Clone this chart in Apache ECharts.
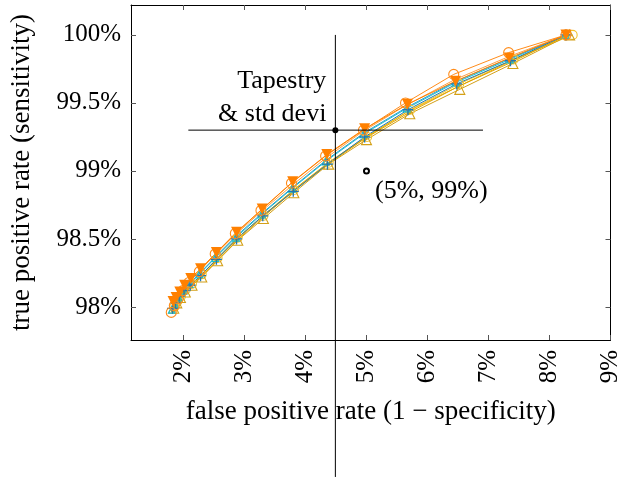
<!DOCTYPE html>
<html><head><meta charset="utf-8">
<script src="https://cdn.jsdelivr.net/npm/echarts@6/dist/echarts.min.js"></script>
<style>html,body{margin:0;padding:0;background:#fff}#c{width:623px;height:477px}</style>
</head><body><div id="c"></div>
<script>
// ---- data (percent) ----
const xTicks = [2, 3, 4, 5, 6, 7, 8, 9];
const yTicks = [98, 98.5, 99, 99.5, 100];

const s1x = [1.80, 1.85, 1.91, 1.99, 2.09, 2.26, 2.52, 2.85, 3.27, 3.77, 4.33, 4.95, 5.64, 6.43, 7.33, 8.27];
const s1y = [97.96, 98.01, 98.06, 98.12, 98.18, 98.26, 98.39, 98.54, 98.71, 98.91, 99.11, 99.30, 99.50, 99.71, 99.87, 100.0];
const s2x = [1.83, 1.88, 1.94, 2.02, 2.12, 2.28, 2.54, 2.87, 3.29, 3.79, 4.35, 4.97, 5.67, 6.46, 7.34, 8.27];
const s2y = [98.04, 98.07, 98.11, 98.16, 98.21, 98.28, 98.40, 98.55, 98.72, 98.92, 99.12, 99.31, 99.49, 99.66, 99.83, 100.0];
const s3x = [1.84, 1.89, 1.95, 2.03, 2.14, 2.30, 2.56, 2.89, 3.31, 3.81, 4.38, 5.00, 5.71, 6.53, 7.40, 8.33];
const s3y = [97.99, 98.03, 98.07, 98.11, 98.16, 98.22, 98.34, 98.49, 98.65, 98.84, 99.05, 99.23, 99.42, 99.60, 99.79, 100.0];
const s4x = [1.81, 1.86, 1.92, 2.00, 2.10, 2.26, 2.52, 2.86, 3.28, 3.78, 4.33, 4.95, 5.66, 6.46, 7.35, 8.26];
const s4y = [97.98, 98.02, 98.07, 98.12, 98.17, 98.24, 98.36, 98.51, 98.68, 98.87, 99.07, 99.27, 99.46, 99.65, 99.82, 100.0];
const s5x = [1.82, 1.87, 1.93, 2.01, 2.11, 2.28, 2.54, 2.87, 3.30, 3.80, 4.36, 4.97, 5.68, 6.48, 7.36, 8.27];
const s5y = [97.99, 98.03, 98.08, 98.12, 98.16, 98.23, 98.35, 98.50, 98.67, 98.85, 99.05, 99.25, 99.45, 99.64, 99.81, 100.0];
const s6x = [1.83, 1.88, 1.94, 2.02, 2.12, 2.29, 2.55, 2.88, 3.30, 3.80, 4.37, 4.98, 5.70, 6.50, 7.38, 8.30];
const s6y = [97.97, 98.01, 98.05, 98.10, 98.15, 98.22, 98.34, 98.49, 98.66, 98.85, 99.05, 99.24, 99.43, 99.62, 99.80, 100.0];
const s7x = [1.85, 1.90, 1.96, 2.04, 2.14, 2.30, 2.56, 2.89, 3.31, 3.81, 4.38, 5.01, 5.72, 6.52, 7.41, 8.38];
const s7y = [98.00, 98.04, 98.08, 98.13, 98.17, 98.24, 98.36, 98.51, 98.67, 98.86, 99.06, 99.25, 99.45, 99.64, 99.82, 100.0];
const s8x = [1.82, 1.87, 1.92, 2.00, 2.10, 2.27, 2.53, 2.86, 3.29, 3.79, 4.34, 4.96, 5.67, 6.47, 7.36, 8.28];
const s8y = [97.98, 98.03, 98.08, 98.13, 98.17, 98.25, 98.37, 98.52, 98.69, 98.88, 99.08, 99.28, 99.47, 99.66, 99.83, 100.0];
const s9x = [1.81, 1.86, 1.92, 2.00, 2.10, 2.26, 2.52, 2.85, 3.27, 3.77, 4.32, 4.94, 5.64, 6.44, 7.33, 8.27];
const s9y = [98.00, 98.05, 98.10, 98.15, 98.20, 98.27, 98.38, 98.53, 98.70, 98.89, 99.09, 99.29, 99.48, 99.67, 99.84, 100.0];
const s10x = [1.84, 1.89, 1.95, 2.03, 2.13, 2.29, 2.55, 2.88, 3.30, 3.80, 4.37, 4.99, 5.69, 6.50, 7.38, 8.31];
const s10y = [97.98, 98.02, 98.06, 98.11, 98.15, 98.23, 98.35, 98.50, 98.67, 98.86, 99.06, 99.25, 99.44, 99.62, 99.81, 100.0];

// annotation
const crossPoint = [4.49, 99.30];
const hLineX = [2.08, 6.91];
const vLineY = [96.75, 100.0];
const refPoint = [5, 99];
const crossText = 'Tapestry\n& std devi';
const refText = '(5%, 99%)';

const xMin = 1.14, xMax = 9.0, yMin = 97.757, yMax = 100.22;

// ---- chart ----
const zip = (a, b) => a.map((v, i) => [v, b[i]]);
const FONT = '"Liberation Serif", "DejaVu Serif", serif';
const triDown = 'path://M0,0 L10,0 L5,9 Z';
const triUp = 'path://M5,0 L10,9 L0,9 Z';
const plusP = 'path://M4.4,0 H5.6 V4.4 H10 V5.6 H5.6 V10 H4.4 V5.6 H0 V4.4 H4.4 Z';

function ser(x, y, color, symbol, size, filled) {
  return {
    type: 'line', data: zip(x, y), symbol: symbol, symbolSize: size,
    showSymbol: true, animation: false, z: 3,
    lineStyle: { color: color, width: 1 },
    itemStyle: filled ? { color: color, borderWidth: 0 }
                      : { color: 'rgba(0,0,0,0)', borderColor: color, borderWidth: 1.1 },
  };
}

const series = [
  ser(s7x, s7y, '#f2c230', 'circle', 9, false),
  ser(s3x, s3y, '#d4a017', triUp, 10, false),
  ser(s10x, s10y, '#f0b000', 'none', 1, true),
  ser(s6x, s6y, '#e0a400', 'circle', 4, true),
  ser(s4x, s4y, '#17bfd3', triUp, 7, false),
  ser(s8x, s8y, '#2a9fc9', 'circle', 3, true),
  ser(s5x, s5y, '#1f77b4', plusP, 11, true),
  ser(s9x, s9y, '#ffa040', 'none', 1, true),
  ser(s1x, s1y, '#ff8c1a', 'circle', 10, false),
  ser(s2x, s2y, '#ff8000', triDown, 11, true),
];

series.push({
  type: 'line', data: [[hLineX[0], crossPoint[1]], [hLineX[1], crossPoint[1]]],
  symbol: 'none', clip: false, animation: false, z: 5,
  lineStyle: { color: '#000', width: 1 }
});
series.push({
  type: 'line', data: [[crossPoint[0], vLineY[0]], [crossPoint[0], vLineY[1]]],
  symbol: 'none', clip: false, animation: false, z: 5,
  lineStyle: { color: '#000', width: 1 }
});
series.push({
  type: 'scatter', data: [crossPoint], symbol: 'circle', symbolSize: 6, animation: false, z: 6,
  itemStyle: { color: '#000', opacity: 1 },
  label: { show: true, formatter: crossText, position: [-6, 4], align: 'right', verticalAlign: 'bottom',
           fontFamily: FONT, fontSize: 26, lineHeight: 33, color: '#000', opacity: 1, textBorderWidth: 0 }
});
series.push({
  type: 'scatter', data: [refPoint], symbol: 'emptyCircle', symbolSize: 5, animation: false, z: 6,
  itemStyle: { color: '#000', borderColor: '#000', borderWidth: 0.8, opacity: 1 },
  label: { show: true, formatter: refText, position: [12, 11], align: 'left', verticalAlign: 'top',
           fontFamily: FONT, fontSize: 26, color: '#000', opacity: 1, textBorderWidth: 0 }
});

const axisLine = { show: true, onZero: false, lineStyle: { color: '#000', width: 1 } };
const tickIn = (vals) => ({ show: true, inside: true, length: 5, customValues: vals, lineStyle: { color: '#555', width: 1 } });

const option = {
  backgroundColor: '#fff',
  animation: false,
  grid: { left: 130, right: 10, top: 5, bottom: 137 },
  xAxis: [{
    type: 'value', min: xMin, max: xMax, position: 'bottom',
    axisLine: axisLine, axisTick: tickIn(xTicks), splitLine: { show: false },
    axisLabel: { customValues: xTicks, rotate: 90, margin: 10, formatter: v => v + '%',
                 fontFamily: FONT, fontSize: 25, color: '#000' },
    name: 'false positive rate (1 − specificity)', nameLocation: 'middle', nameGap: 58,
    nameTextStyle: { fontFamily: FONT, fontSize: 27, color: '#000' }
  }, {
    type: 'value', min: xMin, max: xMax, position: 'top',
    axisLine: axisLine, axisTick: tickIn(xTicks), axisLabel: { show: false }, splitLine: { show: false }
  }],
  yAxis: [{
    type: 'value', min: yMin, max: yMax, position: 'left',
    axisLine: axisLine, axisTick: tickIn(yTicks), splitLine: { show: false },
    axisLabel: { customValues: yTicks, margin: 10, formatter: v => v + '%',
                 fontFamily: FONT, fontSize: 25, color: '#000' },
    name: 'true positive rate (sensitivity)', nameLocation: 'middle', nameGap: 96,
    nameTextStyle: { fontFamily: FONT, fontSize: 27, color: '#000' }
  }, {
    type: 'value', min: yMin, max: yMax, position: 'right',
    axisLine: axisLine, axisTick: tickIn(yTicks), axisLabel: { show: false }, splitLine: { show: false }
  }],
  series: series
};

const chart = echarts.init(document.getElementById('c'), null, { renderer: 'canvas' });
chart.setOption(option);
</script>
</body></html>
